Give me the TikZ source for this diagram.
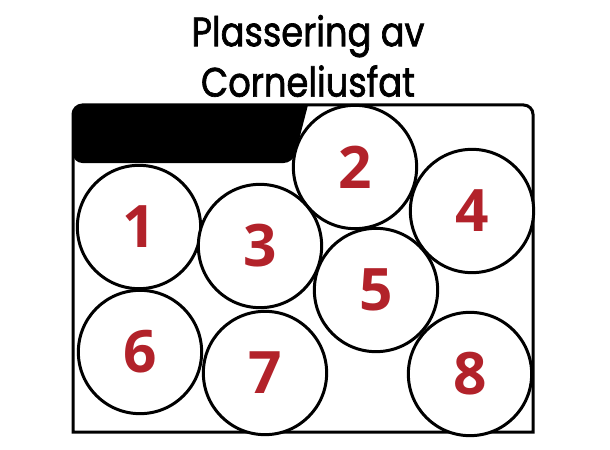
\documentclass[tikz,border=0pt]{standalone}
\usepackage{fontspec}
\setmainfont{Open Sans}
\newfontfamily\titlefont{Poppins}[FakeStretch=0.86, FakeBold=1.6]
\usepackage{tikz}

\definecolor{fatred}{RGB}{178,34,42}

\begin{document}
\begin{tikzpicture}[x=0.03cm, y=-0.03cm,
  fat/.style={circle, draw, line width=0.9mm, fill=white, minimum size=3.7cm, inner sep=0pt,
    text=fatred, font=\fontsize{50}{50}\selectfont\bfseries},
  title/.style={font=\titlefont\fontsize{35}{43}\selectfont, align=center}]
\useasboundingbox (0,0) rectangle (610,450);

% fat og lokk
\fill [rounded corners=8] (73,163) -- (73,105) [sharp corners] -- (308,105) [rounded corners=8] -- (293,163) -- cycle;
\draw [line width=0.9mm, rounded corners=8] (73,432) -- (73,105) -- (533,105) [sharp corners] -- (533,432) -- cycle;

\node [title] (heading) at (308,56) {Plassering av\\ Corneliusfat};

\node [fat] (fat1) at (139,227) {1};
\node [fat] (fat2) at (355,167) {2};
\node [fat] (fat3) at (260,246) {3};
\node [fat] (fat4) at (472,211) {4};
\node [fat] (fat5) at (376,290) {5};
\node [fat] (fat6) at (140,352) {6};
\node [fat] (fat7) at (265,373) {7};
\node [fat] (fat8) at (470,374) {8};

\end{tikzpicture}
\end{document}
